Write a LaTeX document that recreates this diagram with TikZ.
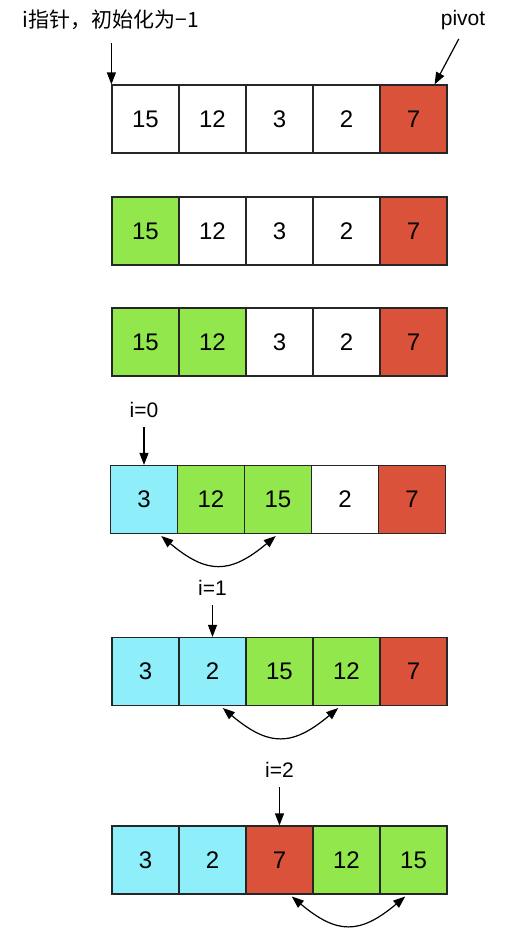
\documentclass[tikz,border=0pt]{standalone}
\usepackage{fontspec}
\setmainfont{Liberation Sans}
\newfontfamily\cjk{Noto Sans CJK SC}
\usetikzlibrary{arrows.meta}
\definecolor{pivotred}{RGB}{218,82,58}
\definecolor{lowcyan}{RGB}{142,238,250}
\definecolor{highgreen}{RGB}{146,231,76}
\tikzset{
	cell/.style={draw=black!85, line width=1.2pt, minimum width=67pt, minimum height=68pt, inner sep=0pt, font=\fontsize{24}{28}\selectfont},
	ptr/.style={line width=1.2pt, -{Triangle[length=12pt,width=9pt]}},
	swap/.style={line width=1.2pt, {Triangle[length=12pt,width=9pt]}-{Triangle[length=12pt,width=9pt]}, shorten <=3pt, shorten >=3pt},
	lbl/.style={font=\fontsize{21}{25}\selectfont, inner sep=1pt},
}

\begin{document}
\begin{tikzpicture}[x=1pt,y=1pt]
		%%%%% START %%%%%
		
		\path[use as bounding box, fill=white] (0,0) rectangle (512,-932);
		
		% row 1: start
		\foreach \v/\c [count=\k] in {15/white,12/white,3/white,2/white,7/pivotred}
			\node[cell, fill=\c] (ra\k) at (78.5+67*\k, -119) {\v};
		\node[lbl] (initlbl) at (111, -20) {\cjk i指针，初始化为−1};
		\node[lbl] (pivotlbl) at (463, -20) {pivot};
		\draw[ptr, shorten <=12pt] (initlbl.south -| ra1.north west) -- (ra1.north west);
		\draw[ptr, shorten <=9pt] (pivotlbl.south) -- ([xshift=-13pt]ra5.north east);
		
		% row 2
		\foreach \v/\c [count=\k] in {15/highgreen,12/white,3/white,2/white,7/pivotred}
			\node[cell, fill=\c] (rb\k) at (78.5+67*\k, -231) {\v};
		
		% row 3
		\foreach \v/\c [count=\k] in {15/highgreen,12/highgreen,3/white,2/white,7/pivotred}
			\node[cell, fill=\c] (rc\k) at (78.5+67*\k, -342) {\v};
		
		% row 4: i=0
		\foreach \v/\c [count=\k] in {3/lowcyan,12/highgreen,15/highgreen,2/white,7/pivotred}
			\node[cell, fill=\c] (rd\k) at (77+67*\k, -499.5) {\v};
		\node[lbl] (izero) at (144, -410) {i=0};
		\draw[ptr, shorten <=8pt] (izero.south) -- (rd1.north);
		\draw[swap] ([xshift=15pt]rd1.south) to[out=-40, in=-140, looseness=1.35] (rd3.south);
		
		% row 5: i=1
		\foreach \v/\c [count=\k] in {3/lowcyan,2/lowcyan,15/highgreen,12/highgreen,7/pivotred}
			\node[cell, fill=\c] (re\k) at (78.5+67*\k, -671.5) {\v};
		\node[lbl] (ione) at (212.5, -588) {i=1};
		\draw[ptr, shorten <=8pt] (ione.south) -- (re2.north);
		\draw[swap] ([xshift=8pt]re2.south) to[out=-40, in=-140, looseness=1.35] ([xshift=-6pt]re4.south);
		
		% row 6: i=2
		\foreach \v/\c [count=\k] in {3/lowcyan,2/lowcyan,7/pivotred,12/highgreen,15/highgreen}
			\node[cell, fill=\c] (rf\k) at (78.5+67*\k, -860) {\v};
		\node[lbl] (itwo) at (279.5, -770) {i=2};
		\draw[ptr, shorten <=8pt] (itwo.south) -- (rf3.north);
		\draw[swap] ([xshift=10pt]rf3.south) to[out=-40, in=-140, looseness=1.35] ([xshift=-6pt]rf5.south);
		
		%%%%% END %%%%%
\end{tikzpicture}
\end{document}
